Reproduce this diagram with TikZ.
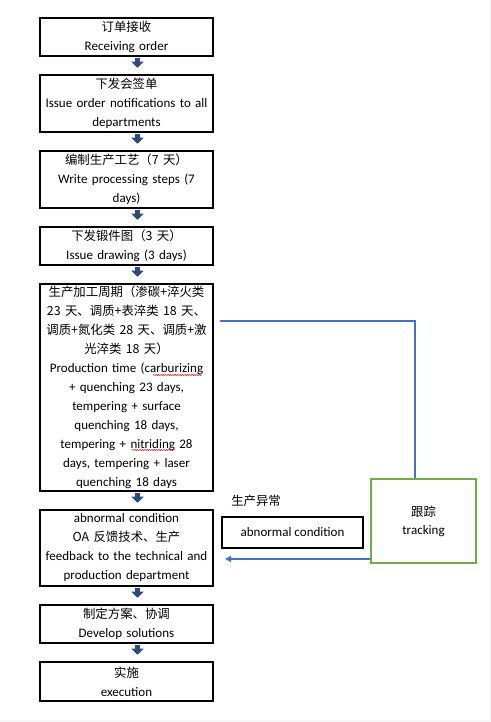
\documentclass[tikz,border=0pt]{standalone}
\usepackage{fontspec}
\setmainfont{Carlito}[Scale=1.05]
\newfontfamily\cjk{Noto Sans CJK SC}
\usetikzlibrary{arrows.meta,calc,decorations.pathmorphing}
\definecolor{arrowblue}{RGB}{44,74,128}
\definecolor{lineblue}{RGB}{68,114,196}
\definecolor{boxgreen}{RGB}{112,173,71}
\hyphenpenalty=10000
\tikzset{
  flowbox/.style={draw=black, line width=0.9pt, minimum width=129.75pt, inner sep=0pt,
    align=center, text width=128pt, font=\fontsize{9.3pt}{14.25pt}\selectfont},
  blockarr/.style={draw=arrowblue, line width=3.75pt, -{Triangle[width=9pt,length=4.5pt]},
    shorten <=0.9pt, shorten >=5pt},
  blueline/.style={draw=lineblue, line width=1.2pt},
  trackbox/.style={draw=boxgreen, line width=1.5pt, minimum width=78.75pt, minimum height=63pt,
    align=center, font=\fontsize{9.3pt}{13.5pt}\selectfont},
  abbox/.style={draw=black, line width=1.6pt, minimum width=105.75pt, minimum height=23.25pt,
    font=\fontsize{9.3pt}{14.25pt}\selectfont},
  lbl/.style={font=\fontsize{9.3pt}{14.25pt}\selectfont, inner sep=0pt},
  spellmark/.style={draw=red!85!black, line width=0.35pt,
    decorate, decoration={snake, amplitude=0.45pt, segment length=1.8pt}}
}
\begin{document}
\begin{tikzpicture}[x=0.75pt,y=-0.75pt]
\useasboundingbox (0,0) rectangle (491,722);
\fill[gray!6] (0,719.5) rectangle (491,722);
\fill[gray!6] (488.5,0) rectangle (491,722);

\node[flowbox, minimum height=28.5pt] (b1) at (126.5,37) {{\cjk 订单接收}\\Receiving order};
\node[flowbox, minimum height=42.75pt] (b2) at (126.5,103.5) {{\cjk 下发会签单}\\Issue order notifications to all\\departments};
\node[flowbox, minimum height=42.75pt] (b3) at (126.5,179.5) {{\cjk 编制生产工艺（7 天）}\\Write processing steps (7\\days)};
\node[flowbox, minimum height=28.5pt] (b4) at (126.5,246) {{\cjk 下发锻件图（3 天）}\\Issue drawing (3 days)};
\node[flowbox, minimum height=155.25pt] (b5) at (126.5,387.5) {{\cjk 生产加工周期（渗碳+淬火类}\\{\cjk 23 天、调质+表淬类 18 天、}\\{\cjk 调质+氮化类 28 天、调质+激}\\{\cjk 光淬类 18 天）}\\Production time (carburizing\\+ quenching 23 days,\\tempering + surface\\quenching 18 days,\\tempering + nitriding 28\\days, tempering + laser\\quenching 18 days};
\node[flowbox, minimum height=57pt] (b6) at (126.5,548) {abnormal condition\\{\cjk OA 反馈技术、生产}\\feedback to the technical and\\production department};
\node[flowbox, minimum height=28.5pt] (b7) at (126.5,624) {{\cjk 制定方案、协调}\\Develop solutions};
\node[flowbox, minimum height=29.25pt] (b8) at (126.5,681.5) {{\cjk 实施}\\execution};

% spell-check marks
\path[spellmark] (153,375) -- (202,375);
\path[spellmark] (132,450) -- (175,450);

\coordinate (ax) at (137.5,0);
\foreach \a/\b in {b1/b2,b2/b3,b3/b4,b4/b5,b5/b6,b6/b7,b7/b8}{
  \draw[blockarr] (\a.south -| ax) -- (\b.north -| ax);
}

\node[trackbox] (trk) at (423.5,521) {{\cjk 跟踪}\\tracking};
\node[abbox] (ab) at (292.5,532.5) {abnormal condition};
\node[lbl, anchor=west] (lb) at (231,501) {\cjk 生产异常};

\coordinate (ls) at (220,321);
\coordinate (lx) at (415,0);
\draw[blueline] (ls) -| (trk.north -| lx);
\coordinate (ae) at (225,559);
\draw[blueline, -{Triangle[width=4.5pt,length=4.5pt]}] (trk.west |- ae) -- (ae);
\end{tikzpicture}
\end{document}
